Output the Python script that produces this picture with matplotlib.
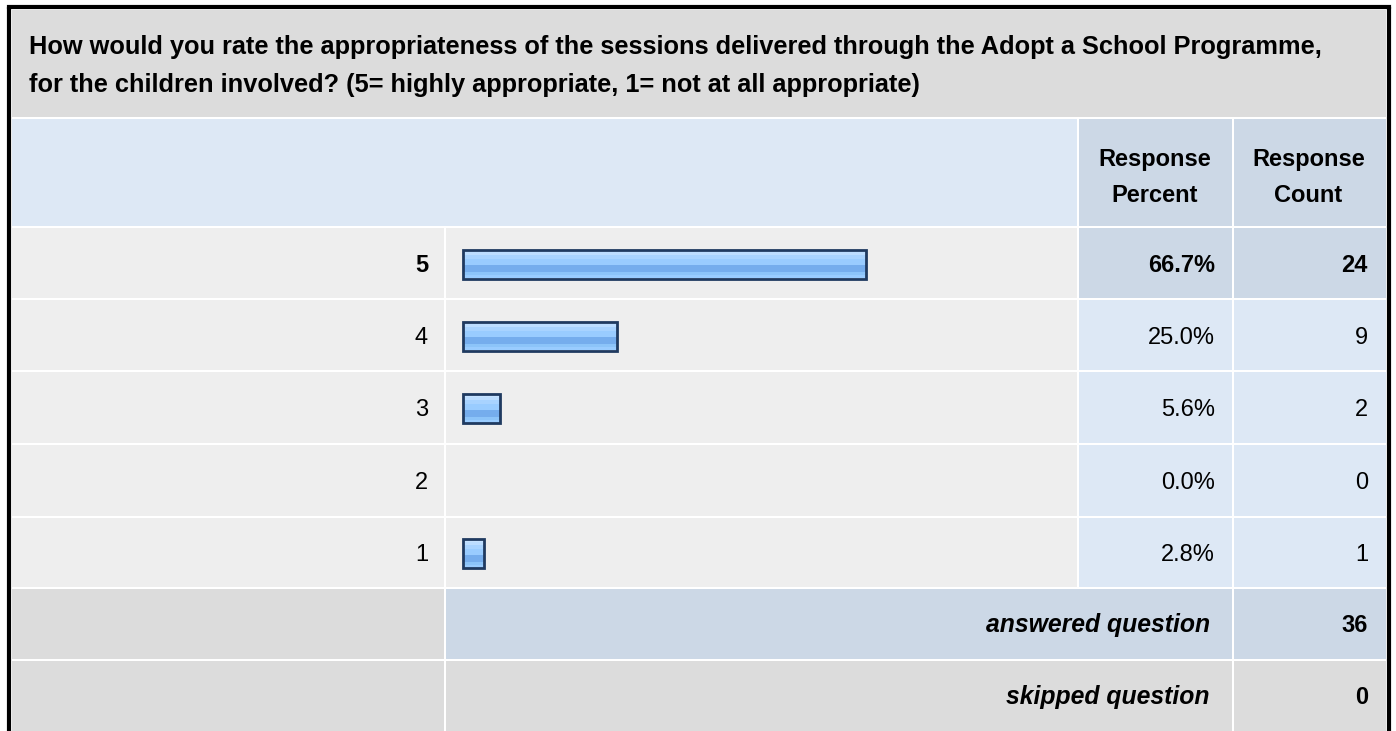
import numpy as np
import matplotlib.pyplot as plt
from matplotlib.patches import Rectangle

plt.rcParams['font.family'] = ['Liberation Sans', 'DejaVu Sans']

question = ["How would you rate the appropriateness of the sessions delivered through the Adopt a School Programme,",
            "for the children involved? (5= highly appropriate, 1= not at all appropriate)"]
ratings = ['5', '4', '3', '2', '1']
percents = [66.7, 25.0, 5.6, 0.0, 2.8]
counts = [24, 9, 2, 0, 1]
answered = 36
skipped = 0

W, H = 1396, 731
fig = plt.figure(figsize=(W / 100, H / 100), dpi=100)
ax = fig.add_axes([0, 0, 1, 1])
ax.set_xlim(0, W)
ax.set_ylim(H, 0)
ax.axis('off')

GRAY = '#dcdcdc'
LIGHT = '#eeeeee'
BLUE = '#dde8f5'
DBLUE = '#ccd8e6'
FS = 17
FS_TITLE = 18.3
FS_FOOT = 17.8


def cell(x0, y0, x1, y1, color):
    ax.add_patch(Rectangle((x0, y0), x1 - x0, y1 - y0, facecolor=color,
                           edgecolor='none', zorder=1))


# column edges
c0, c1, c2, c3, c4 = 12, 445, 1078, 1233, 1386

# title
cell(c0, 10, c4, 117, GRAY)
ax.text(29, 54, question[0], fontsize=FS_TITLE, fontweight='bold', va='baseline', ha='left')
ax.text(29, 92, question[1], fontsize=FS_TITLE, fontweight='bold', va='baseline', ha='left')

# header
hy0, hy1 = 119, 226
cell(c0, hy0, c2 - 1, hy1, BLUE)
cell(c2 + 1, hy0, c3 - 1, hy1, DBLUE)
cell(c3 + 1, hy0, c4, hy1, DBLUE)
for xc, lab in [((c2 + c3) / 2 - 1, 'Percent'), ((c3 + c4) / 2 - 1, 'Count')]:
    ax.text(xc, 166, 'Response', fontsize=FS, fontweight='bold', ha='center', va='baseline')
    ax.text(xc, 202, lab, fontsize=FS, fontweight='bold', ha='center', va='baseline')

# rows
row_top = [228, 300, 372, 445, 518]
row_bot = [298, 370, 443, 516, 587]
bar_x0 = 463
scale = 5.98  # px per percent
bar_h = 29

grad = np.array([[0.78, 0.89, 1.0], [0.74, 0.87, 1.0], [0.66, 0.83, 1.0],
                 [0.60, 0.80, 1.0], [0.60, 0.80, 1.0], [0.46, 0.68, 0.93],
                 [0.46, 0.68, 0.93], [0.55, 0.77, 0.98], [0.60, 0.80, 1.0]])
grad = grad[:, None, :]

for i, (r, p, n) in enumerate(zip(ratings, percents, counts)):
    y0 = row_top[i]
    y1 = row_bot[i]
    yc = (y0 + y1) / 2
    yb = yc + 8.5
    hi = i == 0
    cell(c0, y0, c1 - 1, y1, LIGHT)
    cell(c1 + 1, y0, c2 - 1, y1, LIGHT)
    cell(c2 + 1, y0, c3 - 1, y1, DBLUE if hi else BLUE)
    cell(c3 + 1, y0, c4, y1, DBLUE if hi else BLUE)
    fw = 'bold' if hi else 'normal'
    ax.text(428, yb, r, fontsize=FS, fontweight=fw, ha='right', va='baseline')
    ax.text(1215, yb, '%.1f%%' % p, fontsize=FS, fontweight=fw, ha='right', va='baseline')
    ax.text(1368, yb, str(n), fontsize=FS, fontweight=fw, ha='right', va='baseline')
    if p > 0:
        wbar = p * scale + 4
        bars = ax.barh([yc + 1], [wbar], left=bar_x0, height=bar_h,
                       facecolor='none', edgecolor='#1f3a60', linewidth=2.0, zorder=4)
        im = ax.imshow(grad, extent=(bar_x0, bar_x0 + wbar, yc + 1 + bar_h / 2, yc + 1 - bar_h / 2),
                       aspect='auto', zorder=3, interpolation='nearest')
        im.set_clip_path(bars[0])

# answered / skipped
ay0, ay1 = 589, 659
cell(c0, ay0, c1 - 1, ay1, GRAY)
cell(c1 + 1, ay0, c3 - 1, ay1, DBLUE)
cell(c3 + 1, ay0, c4, ay1, DBLUE)
ax.text(1210, 632, 'answered question', fontsize=FS_FOOT, fontweight='bold',
        style='italic', ha='right', va='baseline')
ax.text(1368, 632, str(answered), fontsize=FS, fontweight='bold', ha='right', va='baseline')

sy0, sy1 = 661, 740
cell(c0, sy0, c1 - 1, sy1, GRAY)
cell(c1 + 1, sy0, c3 - 1, sy1, GRAY)
cell(c3 + 1, sy0, c4, sy1, GRAY)
ax.text(1210, 704, 'skipped question', fontsize=FS_FOOT, fontweight='bold',
        style='italic', ha='right', va='baseline')
ax.text(1368, 704, str(skipped), fontsize=FS, fontweight='bold', ha='right', va='baseline')

# outer border
ax.plot([8.5, 8.5], [H, 6.5], color='black', lw=3, solid_capstyle='butt', zorder=5)
ax.plot([8.5, 1389], [6.5, 6.5], color='black', lw=3, solid_capstyle='projecting', zorder=5)
ax.plot([1389, 1389], [6.5, H], color='black', lw=3, solid_capstyle='butt', zorder=5)

fig.savefig('out.png', dpi=100, facecolor='white')
